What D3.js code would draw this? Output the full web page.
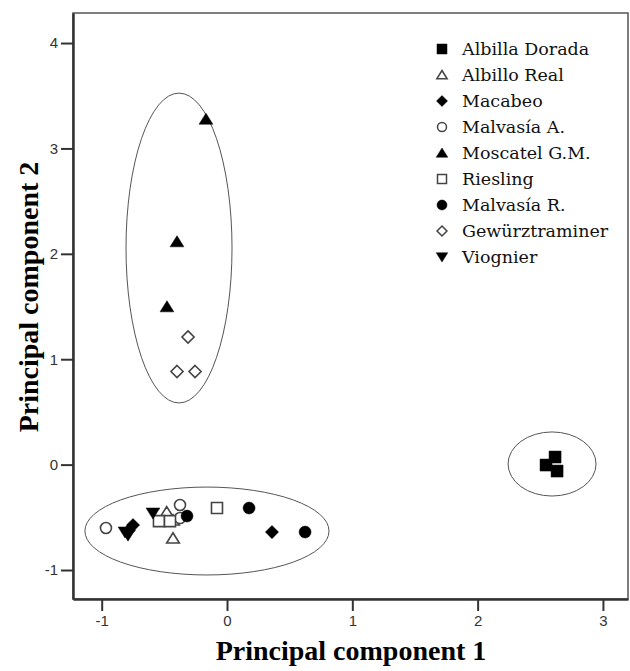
<!DOCTYPE html>
<meta charset="utf-8">
<script src="https://d3js.org/d3.v7.min.js"></script>
<style>
  body { margin: 0; background: #fff; }
</style>
<svg id="chart" width="630" height="671"></svg>
<script>

    // varieties, in legend order
    var varieties = ["Albilla Dorada", "Albillo Real", "Macabeo", "Malvasía A.", "Moscatel G.M.",
        "Riesling", "Malvasía R.", "Gewürztraminer", "Viognier"];

    // scores per variety: [PC1, PC2]
    var albillaDorada = [[2.618, 0.072], [2.546, -0.004], [2.634, -0.061]];
    var albilloReal = [[-0.481, -0.450], [-0.431, -0.528], [-0.431, -0.699]];
    var macabeo = [[-0.750, -0.574], [-0.782, -0.622], [0.359, -0.640]];
    var malvasiaA = [[-0.966, -0.601], [-0.375, -0.383], [-0.375, -0.507]];
    var moscatel = [[-0.168, 3.278], [-0.399, 2.115], [-0.479, 1.498]];
    var riesling = [[-0.543, -0.536], [-0.455, -0.536], [-0.080, -0.412]];
    var malvasiaR = [[-0.319, -0.488], [0.176, -0.412], [0.623, -0.640]];
    var gewurz = [[-0.311, 1.211], [-0.399, 0.883], [-0.255, 0.883]];
    var viognier = [[-0.814, -0.640], [-0.790, -0.669], [-0.591, -0.460]];

    var scores = [albillaDorada, albilloReal, macabeo, malvasiaA, moscatel,
        riesling, malvasiaR, gewurz, viognier];

    // marker shape and fill per variety
    var shapes = ["square", "triangle", "diamond", "circle", "triangle", "square", "circle", "diamond", "triangleDown"];
    var filled = [true, false, true, false, true, false, true, false, true];

    // hand-drawn groups: [cx, cy, rx, ry] in data units
    var groups = [[-0.383, 2.055, 0.423, 1.47], [-0.16, -0.63, 0.974, 0.417], [2.594, 0.006, 0.351, 0.304]];

    var xTicks = [-1, 0, 1, 2, 3];
    var yTicks = [-1, 0, 1, 2, 3, 4];

    var svg = d3.select("#chart");
    var left = 73, right = 628, topY = 13, bottom = 599;

    var x = d3.scaleLinear().domain([-1.229, 3.2]).range([left, right]);
    var y = d3.scaleLinear().domain([-1.275, 4.285]).range([bottom, topY]);

    // frame
    svg.append("rect")
        .attr("x", left).attr("y", topY)
        .attr("width", right - left).attr("height", bottom - topY)
        .attr("fill", "none").attr("stroke", "#555").attr("stroke-width", 1.5);

    var xAxis = svg.append("g")
        .attr("transform", "translate(0," + bottom + ")")
        .call(d3.axisBottom(x).tickValues(xTicks).tickFormat(String).tickSize(12).tickSizeOuter(0).tickPadding(4));
    var yAxis = svg.append("g")
        .attr("transform", "translate(" + left + ",0)")
        .call(d3.axisLeft(y).tickValues(yTicks).tickFormat(String).tickSize(12).tickSizeOuter(0).tickPadding(3));

    [xAxis, yAxis].forEach(function (g) {
        g.select(".domain").attr("stroke", "#333").attr("stroke-width", 2.5);
        g.selectAll(".tick line").attr("stroke", "#333").attr("stroke-width", 2);
        g.selectAll(".tick text")
            .attr("fill", "#333")
            .style("font-family", "Liberation Sans, Arial, sans-serif")
            .style("font-size", "15px");
    });

    // ellipses
    svg.append("g")
        .selectAll("ellipse")
        .data(groups)
        .enter()
        .append("ellipse")
        .attr("cx", function (d) { return x(d[0]) })
        .attr("cy", function (d) { return y(d[1]) })
        .attr("rx", function (d) { return x(d[0] + d[2]) - x(d[0]) })
        .attr("ry", function (d) { return y(d[1]) - y(d[1] + d[3]) })
        .attr("fill", "none")
        .attr("stroke", "#555")
        .attr("stroke-width", 1);

    function markerPath(shape, s) {
        var h = s / 2;
        if (shape == "square") return "M" + -h + "," + -h + "H" + h + "V" + h + "H" + -h + "Z";
        if (shape == "triangle") return "M0," + -h + "L" + (h * 1.15) + "," + (h * 0.85) + "L" + (-h * 1.15) + "," + (h * 0.85) + "Z";
        if (shape == "triangleDown") return "M0," + h + "L" + (h * 1.15) + "," + (-h * 0.85) + "L" + (-h * 1.15) + "," + (-h * 0.85) + "Z";
        if (shape == "diamond") return "M0," + -h * 1.1 + "L" + h * 1.1 + ",0L0," + h * 1.1 + "L" + -h * 1.1 + ",0Z";
        return d3.arc()({ innerRadius: 0, outerRadius: h, startAngle: 0, endAngle: 2 * Math.PI });
    }

    var points = [];
    scores.forEach(function (list, i) {
        list.forEach(function (p) { points.push({ v: i, x: p[0], y: p[1] }) });
    });

    svg.append("g")
        .selectAll("path")
        .data(points)
        .enter()
        .append("path")
        .attr("transform", function (d) { return "translate(" + x(d.x) + "," + y(d.y) + ")" })
        .attr("d", function (d) { return markerPath(shapes[d.v], filled[d.v] ? 12 : 11) })
        .attr("fill", function (d) { return filled[d.v] ? "#000" : "#fff" })
        .attr("stroke", function (d) { return filled[d.v] ? "#000" : "#444" })
        .attr("stroke-width", function (d) { return filled[d.v] ? 0.5 : 1.6 });

    // legend
    var legend = svg.append("g").attr("transform", "translate(442,49)");
    var item = legend.selectAll("g")
        .data(varieties)
        .enter()
        .append("g")
        .attr("transform", function (d, i) { return "translate(0," + i * 26 + ")" });
    item.append("path")
        .attr("d", function (d, i) { return markerPath(shapes[i], filled[i] ? 10 : 9) })
        .attr("fill", function (d, i) { return filled[i] ? "#000" : "#fff" })
        .attr("stroke", function (d, i) { return filled[i] ? "#000" : "#444" })
        .attr("stroke-width", function (d, i) { return filled[i] ? 0.5 : 1.5 });
    item.append("text")
        .attr("x", 20)
        .attr("dy", "0.35em")
        .style("font-family", "DejaVu Serif, serif")
        .style("font-size", "17.5px")
        .attr("fill", "#111")
        .text(function (d) { return d });

    // axis titles
    svg.append("text")
        .attr("x", 351)
        .attr("y", 660)
        .attr("text-anchor", "middle")
        .style("font-family", "Liberation Serif, Times New Roman, serif")
        .style("font-weight", "bold")
        .style("font-size", "28px")
        .text("Principal component 1");

    svg.append("text")
        .attr("transform", "translate(38,297) rotate(-90)")
        .attr("text-anchor", "middle")
        .style("font-family", "Liberation Serif, Times New Roman, serif")
        .style("font-weight", "bold")
        .style("font-size", "28px")
        .text("Principal component 2");

</script>
